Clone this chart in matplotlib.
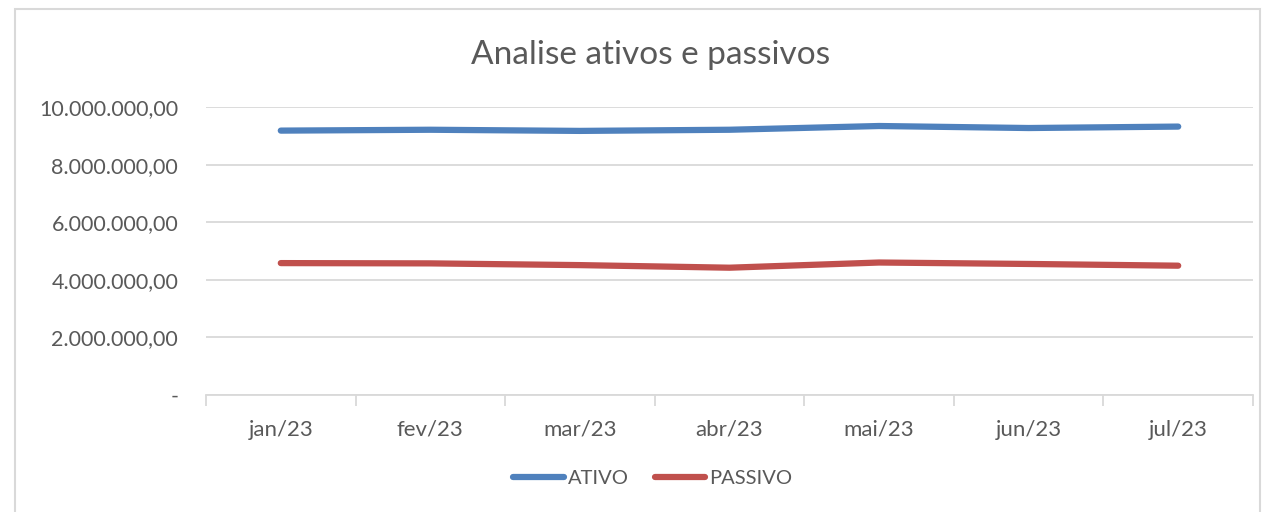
import numpy as np
import matplotlib.pyplot as plt
from matplotlib.patches import Rectangle
from matplotlib.ticker import FuncFormatter

# data
meses = ['jan/23', 'fev/23', 'mar/23', 'abr/23', 'mai/23', 'jun/23', 'jul/23']
ativo = [9180000, 9210000, 9170000, 9210000, 9340000, 9270000, 9320000]
passivo = [4580000, 4570000, 4510000, 4420000, 4600000, 4550000, 4490000]
y_ticks = [0, 2000000, 4000000, 6000000, 8000000, 10000000]

plt.rcParams['font.family'] = ['Lato', 'DejaVu Sans']
cinza = '#595959'
grade = '#d9d9d9'

fig = plt.figure(figsize=(12.69, 5.12), dpi=100)
# chart frame like the Excel chart area
fig.patches.append(Rectangle((15 / 1269, -0.05), 1245 / 1269, 1.05 - 9 / 512,
                             transform=fig.transFigure, fill=False,
                             edgecolor='#d9d9d9', linewidth=1.5))

ax = fig.add_axes([206 / 1269, 1 - 395 / 512, (1253 - 206) / 1269, (395 - 107) / 512])

x = np.arange(len(meses))
ax.plot(x, ativo, color='#4f81bd', linewidth=4.5, solid_capstyle='round', label='ATIVO')
ax.plot(x, passivo, color='#c0504d', linewidth=4.5, solid_capstyle='round', label='PASSIVO')

ax.set_xlim(-0.5, len(meses) - 0.5)
ax.set_ylim(0, 10000000)
ax.set_yticks(y_ticks)

def fmt(v, pos):
    if v == 0:
        return '-'
    return '{:,.2f}'.format(v).replace(',', 'X').replace('.', ',').replace('X', '.')

ax.yaxis.set_major_formatter(FuncFormatter(fmt))
ax.grid(axis='y', color=grade, linewidth=1.3)
ax.set_axisbelow(True)

# category ticks sit between the months, labels centred on them
ax.set_xticks(np.arange(-0.5, len(meses), 1.0))
ax.set_xticklabels([])
ax.set_xticks(x, minor=True)
ax.set_xticklabels(meses, minor=True)
ax.tick_params(axis='x', which='major', direction='out', length=8, color=grade, width=1.3)
ax.tick_params(axis='x', which='minor', length=0, pad=18, labelsize=16, labelcolor=cinza)
ax.tick_params(axis='y', length=0, pad=20, labelsize=15.5, labelcolor=cinza)

for s in ['top', 'right', 'left']:
    ax.spines[s].set_visible(False)
ax.spines['bottom'].set_color(grade)
ax.spines['bottom'].set_linewidth(1.3)

fig.text(651 / 1269, 1 - 55 / 512, 'Analise ativos e passivos', ha='center', va='center',
         fontsize=24, color=cinza)

fig.legend(loc='center', bbox_to_anchor=(653 / 1269, 1 - 478 / 512), ncol=2, frameon=False,
           fontsize=14.5, labelcolor=cinza, handlelength=2.5, handletextpad=0.2, columnspacing=1.3)

fig.savefig('out.png', dpi=100)
